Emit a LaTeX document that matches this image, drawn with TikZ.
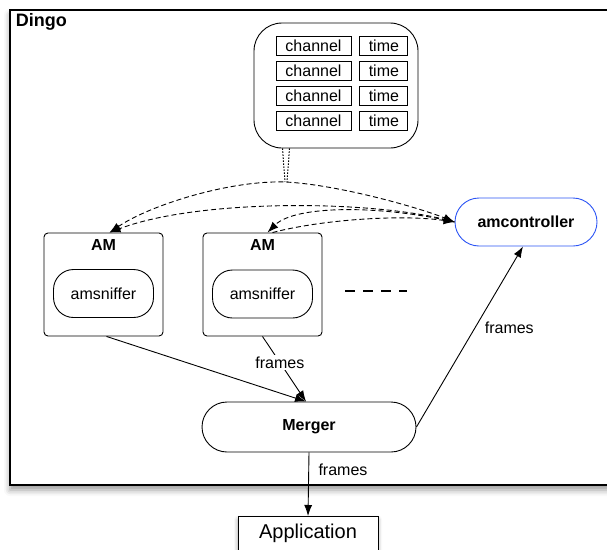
\documentclass[tikz,border=0pt]{standalone}
\usepackage{fontspec}
\setmainfont{Liberation Sans}
\usetikzlibrary{arrows.meta, positioning, calc, shadows.blur}
\definecolor{ctlblue}{RGB}{45,85,245}

\begin{document}
\begin{tikzpicture}[x=1pt, y=-1pt, node distance=8pt, line width=0.9pt,
    >={Latex[length=11pt, width=8pt]},
    every node/.style={font=\fontsize{16}{19}\selectfont},
    % Define node styles that set size and font.
    dingobox/.style={
      rectangle, draw=black, fill=white, line width=1.2pt,
      minimum width=620pt, minimum height=475pt,
      blur shadow={shadow xshift=0pt, shadow yshift=-5pt, shadow blur radius=6pt}
    },
    grouptitle/.style={font=\bfseries\fontsize{18}{21}\selectfont, inner sep=0pt},
    store/.style={rectangle, rounded corners=28pt, draw=black,
      minimum width=164pt, minimum height=125pt},
    cell/.style={rectangle, draw=black, inner sep=0pt, minimum height=19pt},
    module/.style={rectangle, rounded corners=4pt, draw=black,
      minimum width=119pt, minimum height=103pt},
    modlabel/.style={font=\bfseries\fontsize{16}{19}\selectfont, inner sep=0pt},
    sniffer/.style={rectangle, rounded corners=20pt, draw=black,
      minimum width=100pt, minimum height=48pt},
    pill/.style={rectangle, rounded corners=24pt, draw=black, fill=white,
      font=\bfseries\fontsize{16}{19}\selectfont},
    appbox/.style={rectangle, draw=black, fill=white, inner sep=0pt,
      minimum width=140pt, text height=22pt, text depth=25pt,
      font=\fontsize{20}{24}\selectfont,
      blur shadow={shadow xshift=0pt, shadow yshift=-3pt, shadow blur radius=4pt}},
    arrow/.style={->},
    ctlsignal/.style={dash pattern=on 5pt off 3pt},
    strand/.style={line width=1pt, dash pattern=on 1.5pt off 1.5pt},
    tag/.style={fill=white, inner sep=2pt}
]
\clip (0,0) rectangle (607,549);

% Outer group
\node [dingobox] (dingo) at (320,247.5) {};
\node [grouptitle, anchor=north west] (dingolabel) at ([xshift=6pt, yshift=-4pt]dingo.north west) {Dingo};

% Channel table
\node [store] (table) at (336,85.5) {};
\foreach \y [count=\i] in {45.5,70.5,95.5,120.5} {
  \node [cell, minimum width=75pt] (chan\i) at (313.5,\y) {channel};
  \node [cell, minimum width=48pt, right=8pt of chan\i] (time\i) {time};
}

% Sniffer modules
\node [module] (am1) at (103.5,284.5) {};
\node [modlabel, below=6pt of am1.north] (am1label) {AM};
\node [sniffer] (sniff1) at ([yshift=-9pt]am1.center) {amsniffer};

\node [module] (am2) at (262.5,284.5) {};
\node [modlabel, below=6pt of am2.north] (am2label) {AM};
\node [sniffer] (sniff2) at ([yshift=-9.5pt]am2.center) {amsniffer};

\coordinate (morea) at ([xshift=23pt, yshift=-6.5pt]am2.east);
\coordinate (moreb) at ([xshift=85pt, yshift=-6.5pt]am2.east);
\draw [line width=2pt, dash pattern=on 10pt off 8pt] (morea) -- (moreb);

% Controller, merger and application
\node [pill, draw=ctlblue, minimum width=142pt, minimum height=48pt] (amctl) at (526,222) {amcontroller};
\node [pill, rounded corners=25pt, minimum width=214pt, minimum height=50pt] (merger) at (309,427) {Merger};
\node [appbox, anchor=north] (app) at (308,516) {Application};

% Table link (two dotted strands)
\coordinate (junc) at (286,182);
\draw [strand] ([xshift=-3.5pt]table.south -| junc) -- ([xshift=-1pt]junc);
\draw [strand] ([xshift=3.5pt]table.south -| junc) -- ([xshift=1pt]junc);

% Control signals
\draw [ctlsignal, <->] ([xshift=6pt]am1.north) .. controls (150,205) and (230,180) .. (junc)
  .. controls (340,185) and (420,208) .. (amctl.west);
\draw [ctlsignal, arrow] (amctl.west) .. controls (380,200) and (200,198) .. ([xshift=6pt]am1.north);
\draw [ctlsignal, arrow] (amctl.west) .. controls (380,205) and (295,205) .. ([xshift=5pt]am2.north);
\draw [ctlsignal, arrow] ([xshift=10pt]am2.north) .. controls (320,220) and (400,214) .. (amctl.west);

% Frames
\draw [arrow] ([xshift=3pt]am1.south) -- ([xshift=-3pt]merger.north);
\draw [arrow] (am2.south) -- node [tag, pos=0.4] (framesa) {frames} ([xshift=-3pt]merger.north);
\draw [arrow] (merger.east) -- node [pos=0.55, right=6pt] (framesb) {frames} ([xshift=-3pt]amctl.south);
\draw [arrow] (merger.south) -- node [pos=0.28, right=6pt] (framesc) {frames} (app.north);

\end{tikzpicture}
\end{document}
